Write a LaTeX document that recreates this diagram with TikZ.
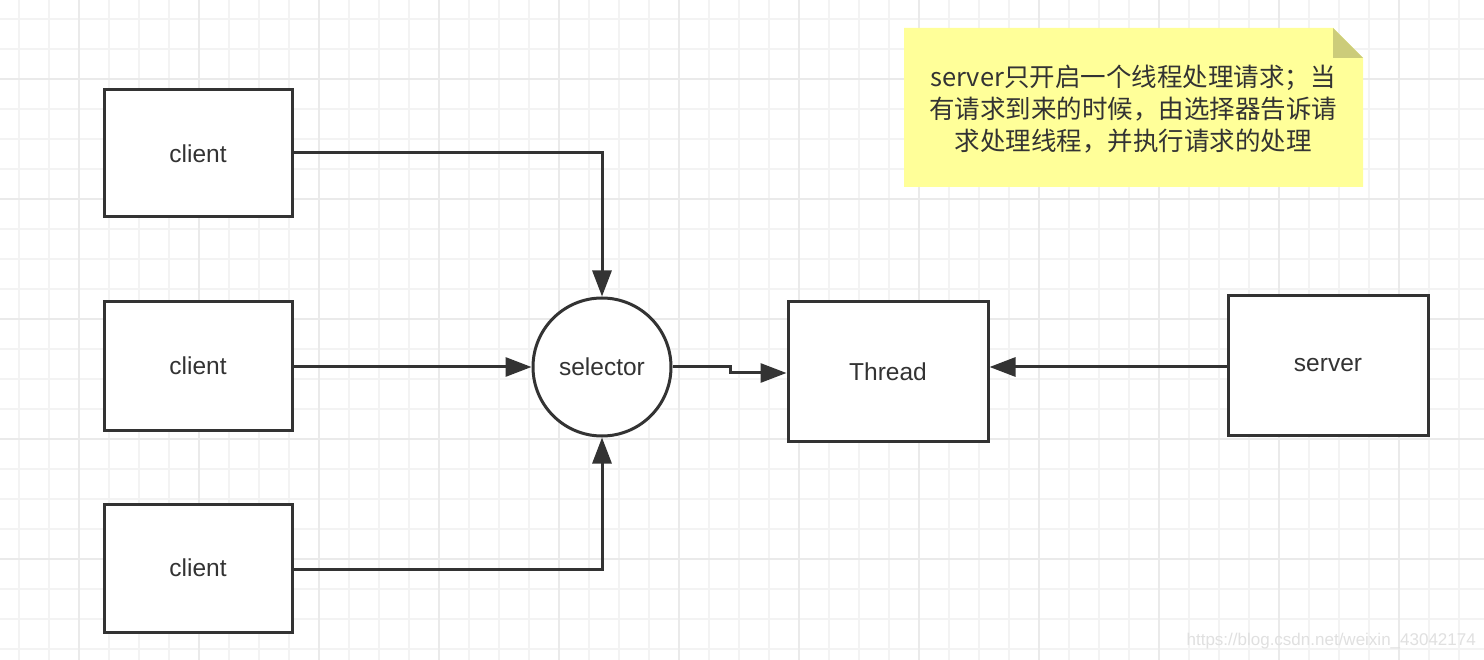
\documentclass[tikz,border=0pt]{standalone}
\usepackage{fontspec}
\setmainfont{Liberation Sans}
\newfontfamily\cjk{Noto Sans CJK SC}
\usetikzlibrary{arrows.meta}
\definecolor{ink}{HTML}{333333}
\definecolor{gridminor}{HTML}{F3F3F3}
\definecolor{gridmajor}{HTML}{EAEAEA}
\definecolor{notefill}{HTML}{FFFF99}
\definecolor{notefold}{HTML}{CCCC7A}
\tikzset{
  box/.style={draw=ink, line width=3pt, fill=white, inner sep=0pt, font=\fontsize{24.5}{28}\selectfont, text=ink},
  circ/.style={circle, draw=ink, line width=3pt, fill=white, inner sep=0pt, minimum size=138pt, font=\fontsize{24.5}{28}\selectfont, text=ink},
  conn/.style={draw=ink, line width=3pt, -{Triangle[length=26pt,width=19pt]}},
}
\begin{document}
\begin{tikzpicture}[x=1pt,y=-1pt]
\useasboundingbox (0,0) rectangle (1484,660);
\fill[white] (0,0) rectangle (1484,660);
% grid
\foreach \i in {0,...,49} {
  \pgfmathsetmacro\xx{19+30*\i}
  \draw[gridminor, line width=2pt] (\xx,0) -- (\xx,660);
}
\foreach \i in {0,...,21} {
  \pgfmathsetmacro\yy{19+30*\i}
  \draw[gridminor, line width=2pt] (0,\yy) -- (1484,\yy);
}
\foreach \i in {0,...,12} {
  \pgfmathsetmacro\xx{79+120*\i}
  \draw[gridmajor, line width=2pt] (\xx,0) -- (\xx,660);
}
\foreach \i in {0,...,5} {
  \pgfmathsetmacro\yy{79+120*\i}
  \draw[gridmajor, line width=2pt] (0,\yy) -- (1484,\yy);
}
% nodes
\node[box, minimum width=188pt, minimum height=127pt] (c1) at (198,153.5) {\raisebox{-2pt}{client}};
\node[box, minimum width=188pt, minimum height=128pt] (c2) at (198,366) {\raisebox{-2pt}{client}};
\node[box, minimum width=188pt, minimum height=128pt] (c3) at (198,568) {\raisebox{-2pt}{client}};
\node[circ] (sel) at (602,367) {selector};
\node[box, minimum width=200pt, minimum height=139pt] (th) at (888,371.5) {\raisebox{-2pt}{Thread}};
\node[box, minimum width=200pt, minimum height=139pt] (sv) at (1328,365.5) {\raisebox{-3pt}{server}};
% note
\fill[notefill] (904,28) -- (1333,28) -- (1363,58) -- (1363,187) -- (904,187) -- cycle;
\fill[notefold] (1333,28) -- (1363,58) -- (1333,58) -- cycle;
\node[align=center, text=ink, font=\cjk\fontsize{25.5}{32}\selectfont, inner sep=0pt] (note) at (1133,109)
  {server只开启一个线程处理请求；当\\有请求到来的时候，由选择器告诉请\\求处理线程，并执行请求的处理};
% connectors
\coordinate (k1) at (602,153);
\coordinate (k3) at (602,569);
\coordinate (m1) at (730,367);
\coordinate (m2) at (730,373);
\draw[conn] (c1.east |- k1) -- (k1) -- (sel.north);
\draw[conn] (c2.east |- sel) -- (sel.west);
\draw[conn] (c3.east |- k3) -- (k3) -- (sel.south);
\draw[conn] (sel.east) -- (m1) -- (m2) -- (th.west |- m2);
\draw[conn] (sv.west |- sel) -- (th.east |- sel);
% watermark
\node[anchor=east, text=black!12, font=\fontsize{17}{20}\selectfont, inner sep=0pt] (wm) at (1476,641) {https://blog.csdn.net/weixin\_43042174};
\end{tikzpicture}
\end{document}
